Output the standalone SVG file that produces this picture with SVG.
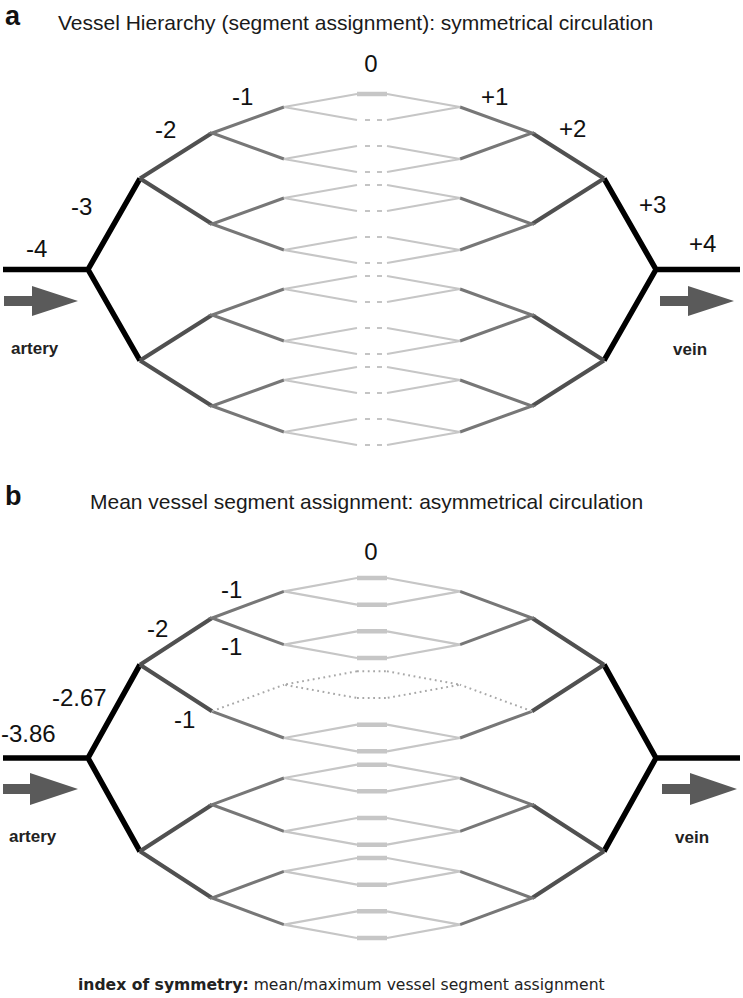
<svg xmlns="http://www.w3.org/2000/svg" width="743" height="998" viewBox="0 0 743 998">
<style>
.v4{stroke:#000;stroke-width:5.5;fill:none;stroke-linejoin:round}
.v2{stroke:#505050;stroke-width:4;fill:none}
.v1{stroke:#777;stroke-width:3;fill:none}
.v0{stroke:#c6c6c6;stroke-width:2.2;fill:none}
.bar{stroke:#c6c6c6;stroke-width:4.5;fill:none}
.dash{stroke:#c4c4c4;stroke-width:2.2;stroke-dasharray:5 7;fill:none}
.dot{stroke:#a8a8a8;stroke-width:2;stroke-dasharray:1.8 3.6;fill:none}
.arrow{fill:#5a5a5a}
.title{font-family:"Liberation Sans",Arial,sans-serif;font-size:21px;fill:#1a1a1a}
.num{font-family:"Liberation Sans",Arial,sans-serif;font-size:24px;fill:#111}
.panel{font-family:"Liberation Sans",Arial,sans-serif;font-size:27px;font-weight:bold;fill:#111}
.flow{font-family:"Liberation Sans",Arial,sans-serif;font-size:17px;font-weight:bold;fill:#222}
.cap{font-family:"DejaVu Sans",sans-serif;font-size:15.6px;fill:#222}
</style>
<rect width="743" height="998" fill="#fff"/>

<g id="panel-a">
  <g id="connectors-a">
    <path class="v4" d="M140,178.5 L88,269.5 L140,360.5 M3,269.5 H88 M604,178.5 L656,269.5 L604,360.5 M656,269.5 H740"/>
    <path class="v2" d="M140,178.5 L212,133 M140,178.5 L212,224 M140,360.5 L212,315 M140,360.5 L212,406 M604,178.5 L532,133 M604,178.5 L532,224 M604,360.5 L532,315 M604,360.5 L532,406"/>
    <path class="v1" d="M284,107 L212,133 L284,159 M284,198 L212,224 L284,250 M284,289 L212,315 L284,341 M284,380 L212,406 L284,432 M460,107 L532,133 L460,159 M460,198 L532,224 L460,250 M460,289 L532,315 L460,341 M460,380 L532,406 L460,432"/>
    <path class="v0" d="M357,94 L284,107 L357,120 M357,146 L284,159 L357,172 M357,185 L284,198 L357,211 M357,237 L284,250 L357,263 M357,276 L284,289 L357,302 M357,328 L284,341 L357,354 M357,367 L284,380 L357,393 M357,419 L284,432 L357,445 M387,94 L460,107 L387,120 M387,146 L460,159 L387,172 M387,185 L460,198 L387,211 M387,237 L460,250 L387,263 M387,276 L460,289 L387,302 M387,328 L460,341 L387,354 M387,367 L460,380 L387,393 M387,419 L460,432 L387,445"/>
    <path class="bar" d="M357,94 H387"/>
    <path class="dash" d="M365,120 H383 M365,146 H383 M365,172 H383 M365,185 H383 M365,211 H383 M365,237 H383 M365,263 H383 M365,276 H383 M365,302 H383 M365,328 H383 M365,354 H383 M365,367 H383 M365,393 H383 M365,419 H383 M365,445 H383"/>
  </g>
  <g id="arrows-a">
    <path class="arrow" d="M4,296 H32 V286 L78,301 L32,316 V306 H4 Z"/>
    <path class="arrow" d="M660,296 H688 V286 L734,301 L688,316 V306 H660 Z"/>
  </g>
  <g id="labels-a">
    <text class="panel" x="5" y="24.5">a</text>
    <text class="title" x="58" y="30">Vessel Hierarchy (segment assignment): symmetrical circulation</text>
    <text class="num" x="371" y="72" text-anchor="middle">0</text>
    <text class="num" x="232" y="105">-1</text>
    <text class="num" x="155" y="138">-2</text>
    <text class="num" x="71" y="215">-3</text>
    <text class="num" x="26" y="257">-4</text>
    <text class="num" x="481" y="105">+1</text>
    <text class="num" x="559" y="137">+2</text>
    <text class="num" x="639" y="213">+3</text>
    <text class="num" x="689" y="252">+4</text>
    <text class="flow" x="11" y="354">artery</text>
    <text class="flow" x="673" y="355">vein</text>
  </g>
</g>

<g id="panel-b">
  <g id="connectors-b">
    <path class="v4" d="M140,664.7 L88,758 L140,851.3 M3,758 H88 M604,664.7 L656,758 L604,851.3 M656,758 H740"/>
    <path class="v2" d="M140,664.7 L212,618 M140,664.7 L212,711.3 M140,851.3 L212,804.7 M140,851.3 L212,898 M604,664.7 L532,618 M604,664.7 L532,711.3 M604,851.3 L532,804.7 M604,851.3 L532,898"/>
    <path class="v1" d="M284,591.3 L212,618 L284,644.7 M212,711.3 L284,738 M284,778 L212,804.7 L284,831.3 M284,871.3 L212,898 L284,924.7 M460,591.3 L532,618 L460,644.7 M532,711.3 L460,738 M460,778 L532,804.7 L460,831.3 M460,871.3 L532,898 L460,924.7"/>
    <path class="v0" d="M357,578 L284,591.3 L357,604.7 M357,631.3 L284,644.7 L357,658 M357,724.7 L284,738 L357,751.3 M357,764.7 L284,778 L357,791.3 M357,818 L284,831.3 L357,844.7 M357,858 L284,871.3 L357,884.7 M357,911.3 L284,924.7 L357,938 M387,578 L460,591.3 L387,604.7 M387,631.3 L460,644.7 L387,658 M387,724.7 L460,738 L387,751.3 M387,764.7 L460,778 L387,791.3 M387,818 L460,831.3 L387,844.7 M387,858 L460,871.3 L387,884.7 M387,911.3 L460,924.7 L387,938"/>
    <path class="bar" d="M357,578 H387 M357,604.7 H387 M357,631.3 H387 M357,658 H387 M357,724.7 H387 M357,751.3 H387 M357,764.7 H387 M357,791.3 H387 M357,818 H387 M357,844.7 H387 M357,858 H387 M357,884.7 H387 M357,911.3 H387 M357,938 H387"/>
    <path class="dot" d="M212,711.3 L284,684.7 M532,711.3 L460,684.7 M357,671.3 L284,684.7 L357,698 M387,671.3 L460,684.7 L387,698 M357,671.3 H387 M357,698 H387"/>
  </g>
  <g id="arrows-b">
    <path class="arrow" d="M3,784 H30 V773 L78,789 L30,805 V794 H3 Z"/>
    <path class="arrow" d="M662,784 H690 V773 L737,789 L690,805 V794 H662 Z"/>
  </g>
  <g id="labels-b">
    <text class="panel" x="5" y="505">b</text>
    <text class="title" x="90" y="509">Mean vessel segment assignment: asymmetrical circulation</text>
    <text class="num" x="371" y="560" text-anchor="middle">0</text>
    <text class="num" x="221" y="598">-1</text>
    <text class="num" x="147" y="637">-2</text>
    <text class="num" x="221" y="655">-1</text>
    <text class="num" x="52" y="706">-2.67</text>
    <text class="num" x="174" y="728">-1</text>
    <text class="num" x="1" y="742">-3.86</text>
    <text class="flow" x="9" y="842">artery</text>
    <text class="flow" x="675" y="843">vein</text>
    <text class="cap" x="78" y="990"><tspan font-weight="bold">index of symmetry:</tspan> mean/maximum vessel segment assignment</text>
  </g>
</g>
</svg>
